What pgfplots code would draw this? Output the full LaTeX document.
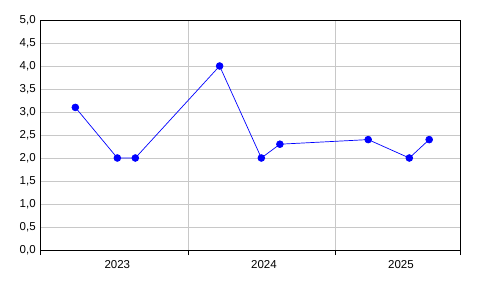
\documentclass[border=0pt]{standalone}
\usepackage{fontspec}
\setmainfont{Liberation Sans}
\usepackage{pgfplots}
\pgfplotsset{compat=1.18}
\definecolor{gridgray}{RGB}{200,200,200}
\definecolor{lineblue}{RGB}{0,0,255}
\begin{document}
\fontsize{11.5bp}{13bp}\selectfont
\begin{tikzpicture}
\path[use as bounding box] (-40.7bp,-46bp) rectangle (455.3bp,250bp);
\begin{axis}[
  at={(0,0)}, anchor=south west,
  scale only axis, width=419.3bp, height=230bp,
  xmin=0, xmax=2.845, ymin=0, ymax=5,
  axis line style={black, line width=0.9bp},
  xtick={0,1,2,2.845}, xticklabels={},
  ytick={0,0.5,...,5},
  tick align=outside,
  xtick pos=bottom, ytick pos=left,
  major tick length=5bp,
  x tick style={black, line width=0.9bp},
  y tick style={draw=none},
  grid=major,
  major grid style={gridgray, line width=0.9bp},
  extra x ticks={0.52,1.515,2.444},
  extra x tick labels={2023,2024,2025},
  extra x tick style={grid=none, tick style={draw=none}, tick label style={yshift=-1bp}},
  yticklabel style={xshift=4bp},
  /pgf/number format/.cd, use comma, fixed, fixed zerofill, precision=1, assume math mode=true,
]
\addplot[lineblue, line width=0.7bp, mark=*, mark size=3.4bp, mark options={fill=lineblue, draw=lineblue}]
  coordinates {
  (0.235,3.1) (0.520,2.0) (0.642,2.0) (1.214,4.0) (1.497,2.0)
  (1.623,2.3) (2.222,2.4) (2.501,2.0) (2.636,2.4)
  };
\end{axis}
\end{tikzpicture}
\end{document}
